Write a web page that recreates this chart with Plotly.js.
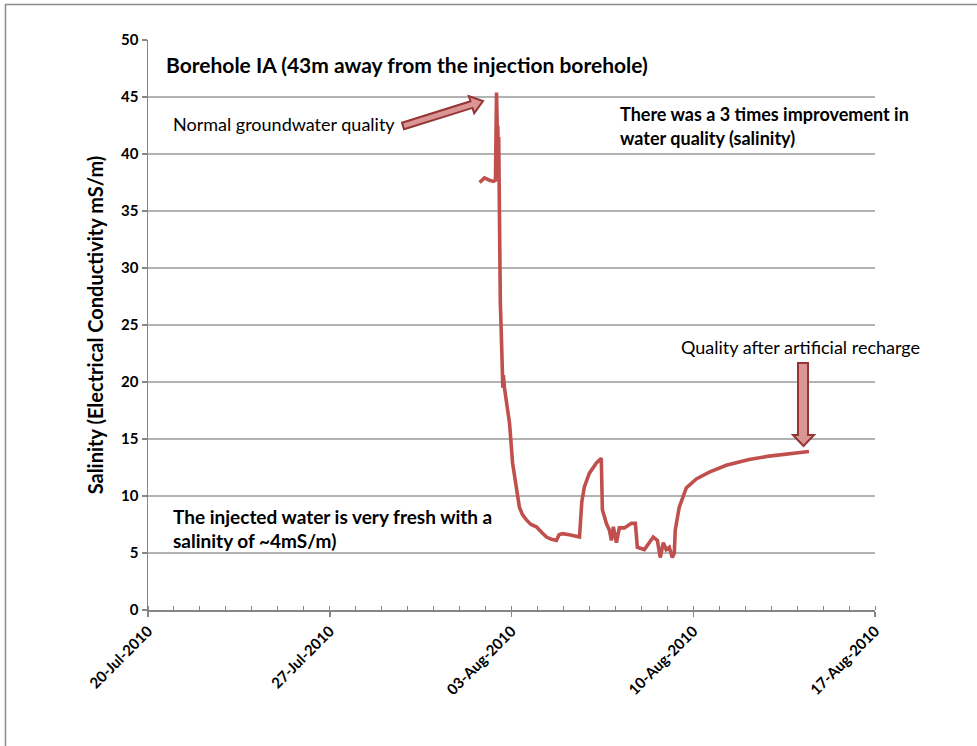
<!DOCTYPE html>
<html>
<head>
<meta charset="utf-8">
<script src="https://cdn.plot.ly/plotly-3.0.1.min.js"></script>
<style>html,body{margin:0;padding:0;background:#fff;}#chart{width:977px;height:746px;}</style>
</head>
<body>
<div id="chart"></div>
<script>
// ---- data ----
const dates = [
"2010-08-01 18:30","2010-08-01 20:30","2010-08-01 23:00","2010-08-02 03:40","2010-08-02 07:20","2010-08-02 09:10",
"2010-08-02 10:10","2010-08-02 10:40","2010-08-02 11:00","2010-08-02 11:20","2010-08-02 11:50","2010-08-02 12:10",
"2010-08-02 12:30","2010-08-02 13:00","2010-08-02 13:40","2010-08-02 14:20","2010-08-02 14:50","2010-08-02 15:40",
"2010-08-02 16:00","2010-08-02 16:30","2010-08-02 17:30","2010-08-02 20:00","2010-08-02 22:10","2010-08-03 01:00",
"2010-08-03 04:40","2010-08-03 07:20","2010-08-03 10:00","2010-08-03 13:50","2010-08-03 18:00","2010-08-03 23:00",
"2010-08-04 04:00","2010-08-04 08:20","2010-08-04 13:00","2010-08-04 17:30","2010-08-04 20:00","2010-08-04 23:00",
"2010-08-05 05:30","2010-08-05 10:00","2010-08-05 14:50","2010-08-05 17:00","2010-08-05 19:20","2010-08-06 00:00",
"2010-08-06 06:30","2010-08-06 11:00","2010-08-06 12:00","2010-08-06 15:40","2010-08-06 18:30","2010-08-06 20:20",
"2010-08-06 22:10","2010-08-07 01:00","2010-08-07 03:40","2010-08-07 08:20","2010-08-07 14:50","2010-08-07 18:30",
"2010-08-07 20:20","2010-08-08 02:50","2010-08-08 07:20","2010-08-08 11:00","2010-08-08 14:50","2010-08-08 17:30",
"2010-08-08 20:20","2010-08-08 23:00","2010-08-09 01:50","2010-08-09 04:40","2010-08-09 06:30","2010-08-09 07:20",
"2010-08-09 11:00","2010-08-09 17:30","2010-08-10 02:50","2010-08-10 14:50","2010-08-11 06:30","2010-08-12 03:40",
"2010-08-12 22:10","2010-08-13 16:40","2010-08-14 11:00"
];
const salinity = [
37.5,37.7,37.9,37.7,37.6,37.7,
45.4,43.0,38.0,42.5,39.0,41.5,
35.0,30.5,27.0,25.0,23.5,21.0,
19.5,20.6,19.5,17.8,16.4,12.9,
10.3,9.0,8.4,7.9,7.5,7.3,
6.8,6.4,6.2,6.1,6.6,6.7,
6.6,6.5,6.4,9.5,10.8,12.0,
12.9,13.3,8.8,7.6,7.0,6.1,
7.3,5.9,7.2,7.2,7.6,7.6,
5.5,5.3,5.9,6.4,6.1,4.6,
5.9,5.3,5.5,4.6,5.0,7.0,
9.0,10.7,11.5,12.1,12.7,13.2,
13.5,13.7,13.9
];
const xRange = ["2010-07-20", "2010-08-17"];
const yRange = [0, 50];
const chartTitle = "Borehole IA (43m away from the injection borehole)";
const yTitle = "Salinity (Electrical Conductivity mS/m)";

// ---- layout helpers (pixel -> paper for decorative shapes) ----
const L = 148, R = 875, T = 40, B = 610, W = 977, H = 746;
const px = x => (x - L) / (R - L);
const py = y => (B - y) / (B - T);
function poly(pts){
  return pts.map((p,i)=>(i?'L':'M')+px(p[0]).toFixed(5)+','+py(p[1]).toFixed(5)).join(' ')+' Z';
}
const FONT = "Lato, Carlito, Calibri, 'Open Sans', sans-serif";

const arrow1 = poly([[404.0,129.3],[472.5,107.9],[474.2,113.2],[483,101],[468.8,96.0],[470.5,101.3],[402.0,122.7]]);
const arrow2 = poly([[798,363],[808,363],[808,435],[814,435],[803.5,446],[793,435],[798,435]]);

const trace = {
  x: dates, y: salinity, type: 'scatter', mode: 'lines',
  line: {color: '#C0504D', width: 3.6}, hoverinfo: 'skip'
};

function ann(text, x, y, size, bold){
  return {text: bold ? '<b>'+text+'</b>' : text, xref:'paper', yref:'paper', x: px(x), y: py(y),
    xanchor:'left', yanchor:'middle', showarrow:false, font:{family:FONT, size:size, color:'#000'}};
}

const layout = {
  width: W, height: H,
  margin: {l: L, r: W - R, t: T, b: H - B, pad: 0},
  paper_bgcolor: '#fff', plot_bgcolor: '#fff',
  showlegend: false,
  font: {family: FONT, color: '#000'},
  xaxis: {
    type: 'date', range: xRange, tick0: xRange[0], dtick: 7*86400000,
    tickformat: '%d-%b-%Y', tickangle: -45,
    tickfont: {family: FONT, size: 15, color: '#000', weight: 'bold'},
    ticks: 'outside', ticklen: 5, tickcolor: '#868686', tickwidth: 1.5,
    showline: true, linecolor: '#868686', linewidth: 1.5,
    showgrid: false, zeroline: false,
    minor: {dtick: 86400000, tick0: xRange[0], ticks: 'inside', ticklen: 4, tickcolor: '#868686', tickwidth: 1, showgrid: false}
  },
  yaxis: {
    range: yRange, dtick: 5, tick0: 0,
    tickfont: {family: FONT, size: 15, color: '#000', weight: 'bold'},
    ticks: 'outside', ticklen: 5, tickcolor: '#868686', tickwidth: 1.5,
    showline: true, linecolor: '#868686', linewidth: 1.5,
    showgrid: true, gridcolor: '#B3B3B3', gridwidth: 1.3, zeroline: false,
    title: {text: '<b>'+yTitle+'</b>', font: {family: FONT, size: 20, color: '#000'}, standoff: 12}
  },
  shapes: [
    {type:'rect', xref:'paper', yref:'paper', x0: px(5.5), x1: px(990), y0: py(760), y1: py(4.5),
     line:{color:'#8C8C8C', width:1.5}, fillcolor:'rgba(0,0,0,0)', layer:'below'},
    {type:'path', xref:'paper', yref:'paper', path: arrow1, fillcolor:'#DA9694', line:{color:'#943634', width:2}},
    {type:'path', xref:'paper', yref:'paper', path: arrow2, fillcolor:'#DA9694', line:{color:'#943634', width:2}}
  ],
  annotations: [
    ann(chartTitle, 164, 64, 21, true),
    ann('Normal groundwater quality', 171, 124, 18, false),
    ann('There was a 3 times improvement in', 618, 114, 18, true),
    ann('water quality (salinity)', 618, 138, 18, true),
    ann('Quality after artificial recharge', 679, 347, 18, false),
    ann('The injected water is very fresh with a', 171, 516, 19, true),
    ann('salinity of ~4mS/m)', 171, 540, 19, true)
  ]
};

Plotly.newPlot('chart', [trace], layout, {staticPlot: true, displayModeBar: false});
</script>
</body>
</html>
